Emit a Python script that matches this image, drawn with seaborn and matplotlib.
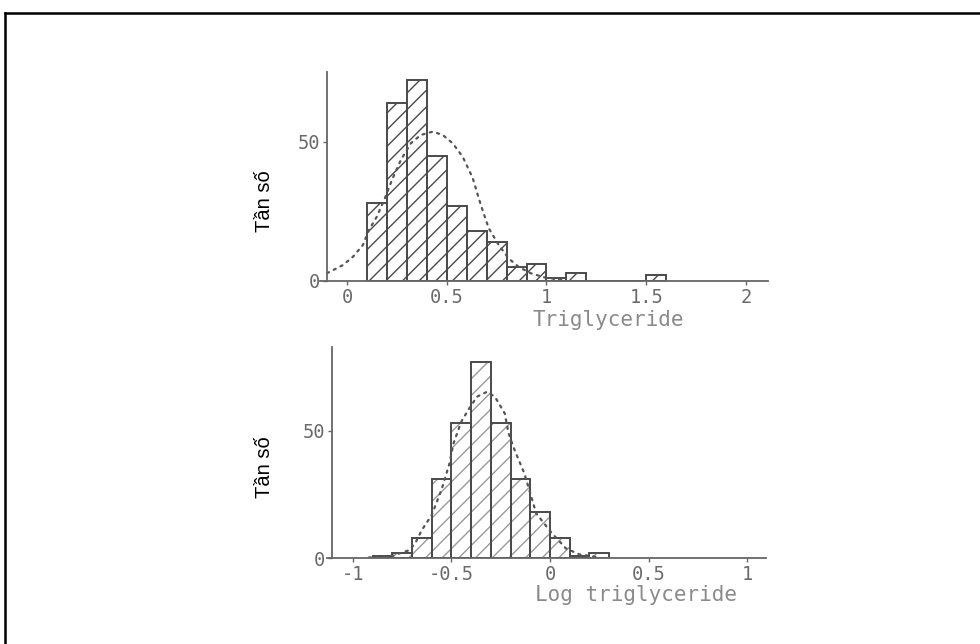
import matplotlib
matplotlib.use("Agg")
import matplotlib.pyplot as plt
import seaborn as sns
import numpy as np
from matplotlib.lines import Line2D

# ---------------- data ----------------
# top panel: Triglyceride, bins of width 0.1
tri_bin_left = [0.1, 0.2, 0.3, 0.4, 0.5, 0.6, 0.7, 0.8, 0.9, 1.0, 1.1, 1.2, 1.3, 1.4, 1.5]
tri_counts = [28, 64, 72, 45, 27, 18, 14, 5, 6, 1, 3, 0, 0, 0, 2]
tri_curve_x = [-0.10, -0.02, 0.03, 0.08, 0.11, 0.15, 0.19, 0.23, 0.27, 0.32, 0.37,
               0.43, 0.48, 0.53, 0.58, 0.63, 0.67, 0.71, 0.76, 0.81, 0.86, 0.92,
               0.99, 1.10]
tri_curve_y = [2.8, 5.7, 8.7, 12.9, 18.3, 23.1, 29.7, 37.0, 43.4, 49.4, 52.4,
               53.6, 52.4, 49.4, 44.6, 37.0, 27.5, 19.0, 13.0, 8.1, 5.1, 2.8,
               1.3, 0.3]
tri_xticks = [0, 0.5, 1, 1.5, 2]
tri_xticklabels = ["0", "0.5", "1", "1.5", "2"]

# bottom panel: Log triglyceride
log_bin_left = [-0.9, -0.8, -0.7, -0.6, -0.5, -0.4, -0.3, -0.2, -0.1, 0.0, 0.1, 0.2]
log_counts = [1, 2, 8, 31, 53, 77, 53, 31, 18, 8, 1, 2]
log_curve_x = [-0.92, -0.80, -0.71, -0.68, -0.65, -0.60, -0.55, -0.51, -0.49, -0.45,
               -0.41, -0.37, -0.32, -0.28, -0.23, -0.21, -0.18, -0.13, -0.10, -0.07,
               -0.03, 0.01, 0.05, 0.08, 0.15, 0.25]
log_curve_y = [0.3, 1.0, 3.3, 6.5, 11.1, 17.0, 27.0, 37.2, 45.0, 53.6,
               58.8, 63.4, 65.3, 63.4, 56.9, 49.0, 42.5, 33.3, 25.5, 17.6,
               13.7, 9.8, 6.5, 3.9, 1.5, 0.4]
log_xticks = [-1, -0.5, 0, 0.5, 1]
log_xticklabels = ["-1", "-0.5", "0", "0.5", "1"]

yticks = [0, 50]
yticklabels = ["0", "50"]
ylabel_text = "Tần số"
BIN_W = 0.1

# ---------------- style ----------------
sns.set_style("white")
plt.rcParams["font.family"] = ["DejaVu Sans Mono", "DejaVu Sans"]
plt.rcParams["hatch.linewidth"] = 1.0

W, H = 980, 644
fig = plt.figure(figsize=(W / 100, H / 100), dpi=100)
fig.patch.set_facecolor("white")

def frac_box(left, top, right, bottom):
    return [left / W, 1 - bottom / H, (right - left) / W, (bottom - top) / H]

TICK_C = "#6a6a6a"
LABEL_C = "#8a8a8a"
EDGE_C = "#4a4a4a"
SPINE_C = "#666666"


def draw_panel(ax, bin_left, counts, cx, cy, xlim, ylim, yaxis_x, xticks, xticklabels,
               xlabel, label_pos, hatch_color):
    edges = list(bin_left) + [bin_left[-1] + BIN_W]
    centers = [b + BIN_W / 2 for b in bin_left]
    # hatched fill layer
    sns.histplot(x=centers, weights=counts, bins=edges, ax=ax, stat="count",
                 color="white", edgecolor=hatch_color, linewidth=0, hatch="//",
                 alpha=1, fill=True)
    # outline layer
    sns.histplot(x=centers, weights=counts, bins=edges, ax=ax, stat="count",
                 fill=False, color=EDGE_C, edgecolor=EDGE_C, linewidth=1.4, alpha=1)
    # dotted fitted curve
    sns.lineplot(x=cx, y=cy, ax=ax, color="#555555", linestyle=(0, (1, 2.4)),
                 linewidth=1.6, sort=False, dash_capstyle="round")
    ax.set_xlim(*xlim)
    ax.set_ylim(*ylim)
    ax.set_facecolor("none")
    for s in ["top", "right"]:
        ax.spines[s].set_visible(False)
    ax.spines["left"].set_position(("data", yaxis_x))
    for s in ["left", "bottom"]:
        ax.spines[s].set_color(SPINE_C)
        ax.spines[s].set_linewidth(1.3)
    ax.set_xticks(xticks)
    ax.set_xticklabels(xticklabels)
    ax.set_yticks(yticks)
    ax.set_yticklabels(yticklabels)
    ax.tick_params(axis="both", direction="out", length=3, width=1, color=SPINE_C,
                   labelsize=13.5, labelcolor=TICK_C, pad=2, bottom=True, left=True)
    ax.set_ylabel("")
    ax.set_xlabel(xlabel, fontsize=15, color=LABEL_C)
    ax.xaxis.set_label_coords(*label_pos)
    ax.xaxis.label.set_va("center")


ax1 = fig.add_axes(frac_box(320, 72, 768, 281))
draw_panel(ax1, tri_bin_left, tri_counts, tri_curve_x, tri_curve_y,
           (-0.135, 2.11), (0, 75), -0.10, tri_xticks, tri_xticklabels,
           "Triglyceride", (0.643, -0.187), "#4a4a4a")

ax2 = fig.add_axes(frac_box(326.7, 346.7, 766, 558.3))
draw_panel(ax2, log_bin_left, log_counts, log_curve_x, log_curve_y,
           (-1.133, 1.096), (0, 83), -1.105, log_xticks, log_xticklabels,
           "Log triglyceride", (0.705, -0.173), "#9a9a9a")

# y labels (plain sans font, black)
for yc in (200.7, 466.7):
    fig.text(264 / W, 1 - yc / H, ylabel_text, rotation=90, ha="center", va="center",
             fontsize=14.5, color="black", family=["Liberation Sans", "DejaVu Sans"])

# outer frame (left and top edges visible)
fig.add_artist(Line2D([4.5 / W, 4.5 / W], [0, 1 - 12.8 / H], transform=fig.transFigure,
                      color="black", linewidth=1.8, solid_capstyle="projecting"))
fig.add_artist(Line2D([4.5 / W, 1], [1 - 12.8 / H, 1 - 12.8 / H], transform=fig.transFigure,
                      color="black", linewidth=1.8, solid_capstyle="projecting"))

fig.savefig("out.png", dpi=100, facecolor="white")
